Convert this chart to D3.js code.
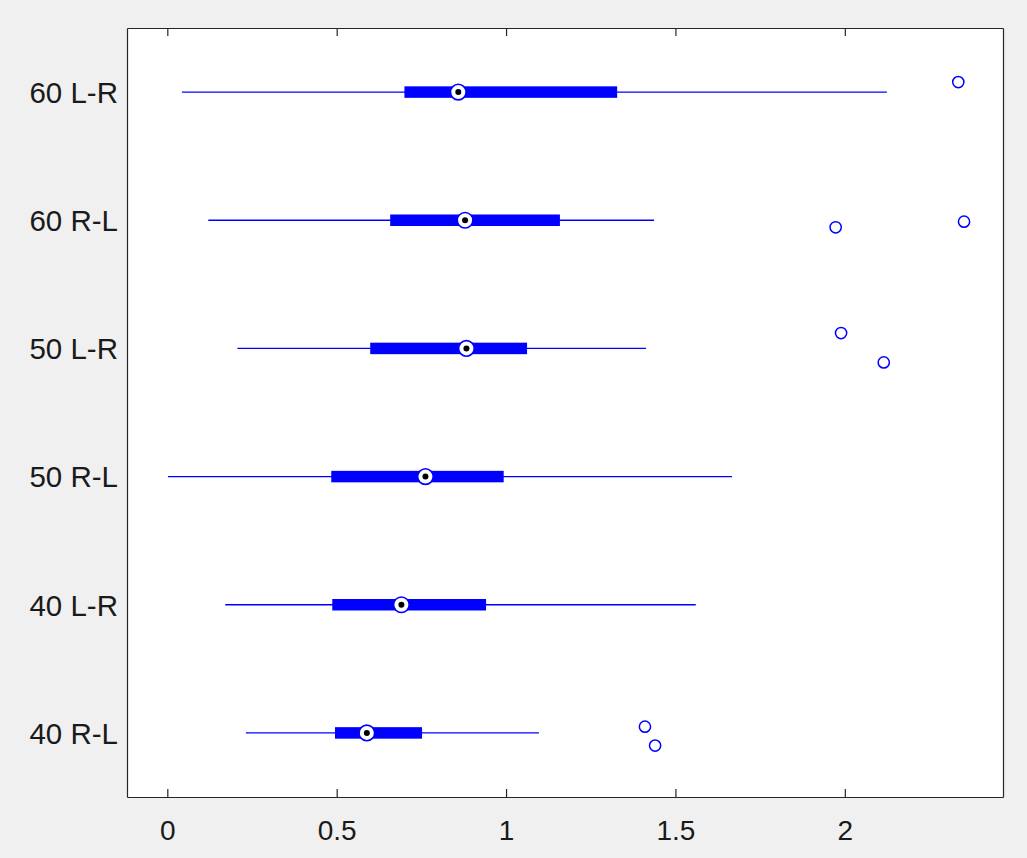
<!DOCTYPE html>
<html>
<head>
<meta charset="utf-8">
<script src="https://cdn.jsdelivr.net/npm/d3@7"></script>
<style>
  html, body { margin: 0; padding: 0; background: #f0f0f0; }
  svg { display: block; }
</style>
</head>
<body>
<script>
// ---- data (bottom to top) ----
const categories  = ["40 R-L", "40 L-R", "50 R-L", "50 L-R", "60 R-L", "60 L-R"];
const whiskerLow  = [0.232, 0.171, 0.002, 0.207, 0.121, 0.043];
const q1Values    = [0.495, 0.487, 0.484, 0.599, 0.658, 0.700];
const medianVals  = [0.589, 0.691, 0.762, 0.883, 0.879, 0.859];
const q3Values    = [0.752, 0.941, 0.993, 1.062, 1.159, 1.328];
const whiskerHigh = [1.097, 1.560, 1.667, 1.413, 1.437, 2.124];

const outlierCategory = ["40 R-L", "40 R-L", "50 L-R", "50 L-R", "60 R-L", "60 R-L", "60 L-R"];
const outlierValue    = [1.410, 1.440, 1.989, 2.115, 1.973, 2.352, 2.335];
const outlierJitter   = [0.049, -0.099, 0.120, -0.109, -0.055, -0.011, 0.078];

const xTickValues = [0, 0.5, 1, 1.5, 2];
const xTickLabels = ["0", "0.5", "1", "1.5", "2"];

(function () {
// ---- layout ----
const W = 1027, H = 858;
const pLeft = 127, pRight = 1003, pTop = 28, pBottom = 797;
const axisColor = "#262626";
const blue = "#0000ff";

const svg = d3.select("body").append("svg").attr("width", W).attr("height", H);

const x = d3.scaleLinear().domain([-0.119, 2.467]).range([pLeft, pRight]);
const y = d3.scaleLinear().domain([0.5, 6.5]).range([pBottom, pTop]);
const pos = c => categories.indexOf(c) + 1;

// plot area
svg.append("rect").attr("x", pLeft).attr("y", pTop)
  .attr("width", pRight - pLeft).attr("height", pBottom - pTop).attr("fill", "#ffffff");

const rows = categories.map((c, i) => ({
  cat: c, lo: whiskerLow[i], q1: q1Values[i], med: medianVals[i], q3: q3Values[i], hi: whiskerHigh[i]
}));

const g = svg.append("g");
// whiskers
g.selectAll("line.whisker").data(rows).join("line")
  .attr("class", "whisker")
  .attr("x1", d => x(d.lo)).attr("x2", d => x(d.hi))
  .attr("y1", d => y(pos(d.cat))).attr("y2", d => y(pos(d.cat)))
  .attr("stroke", blue).attr("stroke-width", 1.4);
// boxes
const boxH = 11.5;
g.selectAll("rect.box").data(rows).join("rect")
  .attr("class", "box")
  .attr("x", d => x(d.q1)).attr("width", d => x(d.q3) - x(d.q1))
  .attr("y", d => y(pos(d.cat)) - boxH / 2).attr("height", boxH)
  .attr("fill", blue);
// medians
g.selectAll("circle.med").data(rows).join("circle")
  .attr("class", "med")
  .attr("cx", d => x(d.med)).attr("cy", d => y(pos(d.cat)))
  .attr("r", 7.8).attr("fill", "#ffffff").attr("stroke", blue).attr("stroke-width", 1.6);
g.selectAll("circle.meddot").data(rows).join("circle")
  .attr("class", "meddot")
  .attr("cx", d => x(d.med)).attr("cy", d => y(pos(d.cat)))
  .attr("r", 3).attr("fill", "#000000");

// outliers
const outliers = outlierValue.map((v, i) => ({ cat: outlierCategory[i], v, j: outlierJitter[i] }));
g.selectAll("circle.out").data(outliers).join("circle")
  .attr("class", "out")
  .attr("cx", d => x(d.v)).attr("cy", d => y(pos(d.cat) + d.j))
  .attr("r", 5.6).attr("fill", "none").attr("stroke", blue).attr("stroke-width", 1.5);

// axes
const font = "'Liberation Sans', Arial, Helvetica, sans-serif";
const xb = svg.append("g").attr("transform", `translate(0,${pBottom})`)
  .call(d3.axisBottom(x).tickValues(xTickValues).tickFormat((d, i) => xTickLabels[i])
    .tickSizeInner(-8).tickSizeOuter(0).tickPadding(23));
const xt = svg.append("g").attr("transform", `translate(0,${pTop})`)
  .call(d3.axisTop(x).tickValues(xTickValues).tickFormat("")
    .tickSizeInner(-8).tickSizeOuter(0));
const yl = svg.append("g").attr("transform", `translate(${pLeft},0)`)
  .call(d3.axisLeft(y).tickValues(categories.map((c, i) => i + 1))
    .tickFormat((d) => categories[d - 1]).tickSize(0).tickPadding(9));
const yr = svg.append("g").attr("transform", `translate(${pRight},0)`)
  .call(d3.axisRight(y).tickValues([]).tickSizeOuter(0));

[xb, xt, yl, yr].forEach(a => {
  a.selectAll("path.domain").attr("stroke", axisColor).attr("stroke-width", 1.2);
  a.selectAll(".tick line").attr("stroke", axisColor).attr("stroke-width", 1.2);
  a.selectAll(".tick text").attr("fill", "#1a1a1a")
    .style("font-family", font).style("font-size", "28px");
});
yl.selectAll(".tick text").attr("dy", "0.35em").style("font-size", "29.5px");
})();
</script>
</body>
</html>
